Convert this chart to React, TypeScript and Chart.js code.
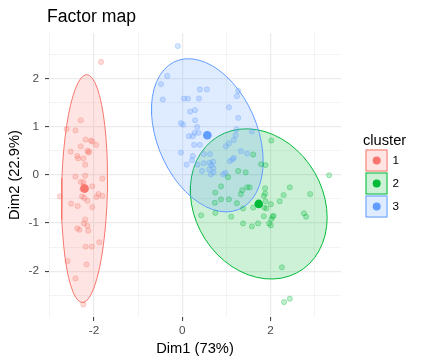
import React, { useEffect, useRef } from "react";
import { Chart, registerables } from "chart.js";

Chart.register(...registerables);

// ---------- data ----------
const clusterLabels = ["1", "2", "3"];
const clusterColors = ["#F8766D", "#00BA38", "#619CFF"];

const cluster1X = [-1.84, -2.30, -2.62, -2.42, -2.19, -2.07, -2.04, -1.95, -2.30, -2.53, -2.15, -2.11, -2.13, -2.38, -2.36, -2.24, -2.20, -2.42, -2.20, -1.81, -2.30, -2.24, -2.04, -2.77, -2.27, -2.22, -2.15, -1.90, -1.94, -1.81, -2.52, -2.37, -2.04, -2.20, -2.23, -2.15, -2.38, -2.33, -2.13, -2.19, -2.05, -1.88, -2.60, -2.17, -2.42, -2.24, -2.21, -2.26, -2.19, -2.24];
const cluster1Y = [2.34, 1.13, 0.95, 0.92, 0.73, 0.71, 0.69, 0.62, 0.59, 0.48, 0.50, 0.48, 0.46, 0.39, 0.34, 0.34, 0.21, -0.04, -0.02, -0.08, -0.15, -0.15, -0.24, -0.45, -0.45, -0.48, -0.54, -0.40, -0.46, -0.44, -0.60, -0.65, -0.67, -0.93, -1.01, -1.06, -1.11, -1.14, -1.16, -1.49, -1.49, -1.40, -1.79, -1.86, -2.15, -2.69, -0.26, -0.30, -0.31, -0.24];

const cluster2X = [2.02, 1.61, 1.79, 1.89, 1.27, 1.44, 1.04, 0.88, 0.75, 0.88, 1.06, 1.24, 0.74, 1.36, 1.33, 1.47, 1.53, 1.61, 1.88, 1.88, 1.85, 1.89, 2.01, 1.86, 1.91, 2.21, 2.30, 2.44, 2.90, 3.33, 0.43, 0.75, 1.11, 1.38, 1.58, 1.72, 1.85, 2.05, 2.07, 2.02, 1.97, 2.01, 2.76, 2.81, 2.26, 2.31, 2.44, 1.38];
const cluster2Y = [0.71, 0.42, 0.22, 0.20, 0.08, 0.05, -0.05, -0.24, -0.37, -0.51, -0.51, -0.59, -0.58, -0.32, -0.40, -0.26, -0.26, -0.68, -0.28, -0.39, -0.44, -0.55, -0.61, -0.68, -0.70, -0.55, -0.42, -0.26, -0.40, -0.01, -0.84, -0.79, -0.87, -1.01, -1.07, -1.01, -0.86, -0.87, -0.85, -0.92, -1.01, -1.05, -0.80, -0.87, -1.92, -2.64, -2.57, -0.70];

const cluster3X = [-0.10, -0.34, -0.48, -0.44, 0.04, 0.13, 0.38, 0.40, 0.56, 1.27, 1.24, 1.06, 0.18, 0.29, 1.27, 0.29, -0.03, 0.02, 0.34, 0.15, 0.24, 0.28, 0.37, 1.23, 1.21, 1.58, 1.06, 1.17, 0.99, -0.03, 0.27, 0.40, 0.24, 0.22, 0.10, 0.49, 0.63, 1.33, 1.47, 0.35, 0.49, 0.62, 0.70, 0.66, 0.71, 0.45, 0.61, 0.65, 0.71, 0.93, 0.98, 1.08, 1.14, 1.17];
const cluster3Y = [2.67, 2.05, 1.88, 1.56, 1.58, 1.58, 1.58, 1.77, 1.77, 1.74, 1.63, 1.40, 1.31, 1.34, 1.18, 1.13, 1.07, 1.04, 0.99, 0.80, 0.80, 0.87, 0.87, 0.94, 0.82, 0.90, 0.65, 0.72, 0.59, 0.46, 0.62, 0.62, 0.39, 0.30, 0.21, 0.43, 0.43, 0.49, 0.44, 0.21, 0.24, 0.25, 0.27, 0.20, 0.14, 0.08, 0.11, 0.01, 0.05, 0.01, 0.04, 0.28, 0.32, 0.35];

const xTickValues = [-2, 0, 2];
const xGridValues = [-3, -2, -1, 0, 1, 2, 3];
const yTickValues = [-2, -1, 0, 1, 2];
const yGridValues = [-2.5, -2, -1.5, -1, -0.5, 0, 0.5, 1, 1.5, 2, 2.5];
const xLimits = [-3.02, 3.6];
const yLimits = [-2.95, 2.94];

const chartTitle = "Factor map";
const xTitle = "Dim1 (73%)";
const yTitle = "Dim2 (22.9%)";
const legendTitle = "cluster";
const ellipseLevel = 0.95;

// ---------- helpers ----------
const FONT = '"Liberation Sans", Arial, Helvetica, sans-serif';

function rgba(hex: string, a: number) {
  const n = parseInt(hex.slice(1), 16);
  return `rgba(${(n >> 16) & 255},${(n >> 8) & 255},${n & 255},${a})`;
}

function mean(v: number[]) {
  return v.reduce((s, x) => s + x, 0) / v.length;
}

// ggplot2 stat_ellipse(type = "norm")
function normEllipse(xs: number[], ys: number[], level: number, segments = 51) {
  const n = xs.length;
  const mx = mean(xs);
  const my = mean(ys);
  let sxx = 0, syy = 0, sxy = 0;
  for (let i = 0; i < n; i++) {
    const dx = xs[i] - mx;
    const dy = ys[i] - my;
    sxx += dx * dx;
    syy += dy * dy;
    sxy += dx * dy;
  }
  sxx /= n - 1;
  syy /= n - 1;
  sxy /= n - 1;
  const a = Math.sqrt(sxx);
  const b = sxy / a;
  const c = Math.sqrt(Math.max(syy - b * b, 0));
  const dfd = n - 1;
  const f = (dfd / 2) * (Math.pow(1 - level, -2 / dfd) - 1); // qf(level, 2, dfd)
  const r = Math.sqrt(2 * f);
  const pts: { x: number; y: number }[] = [];
  for (let k = 0; k <= segments; k++) {
    const t = (2 * Math.PI * k) / segments;
    const u = Math.cos(t);
    const v = Math.sin(t);
    pts.push({ x: mx + r * u * a, y: my + r * (u * b + v * c) });
  }
  return pts;
}

const clusterXs = [cluster1X, cluster2X, cluster3X];
const clusterYs = [cluster1Y, cluster2Y, cluster3Y];

export default function App() {
  const canvasRef = useRef<HTMLCanvasElement | null>(null);

  useEffect(() => {
    document.body.style.margin = "0";
    const canvas = canvasRef.current;
    if (!canvas) return;

    const datasets: any[] = [];
    clusterLabels.forEach((lab, i) => {
      datasets.push({
        type: "line",
        label: "ellipse " + lab,
        data: normEllipse(clusterXs[i], clusterYs[i], ellipseLevel),
        borderColor: clusterColors[i],
        borderWidth: 1,
        backgroundColor: rgba(clusterColors[i], 0.2),
        fill: "shape",
        pointRadius: 0,
        tension: 0,
        order: 10 - i,
      });
    });
    clusterLabels.forEach((lab, i) => {
      datasets.push({
        type: "scatter",
        label: "points " + lab,
        data: clusterXs[i].map((x, j) => ({ x, y: clusterYs[i][j] })),
        backgroundColor: rgba(clusterColors[i], 0.25),
        borderColor: rgba(clusterColors[i], 0.3),
        borderWidth: 1,
        pointRadius: 2.6,
        pointHoverRadius: 2.6,
        order: 5,
      });
    });
    clusterLabels.forEach((lab, i) => {
      datasets.push({
        type: "scatter",
        label: "center " + lab,
        data: [{ x: mean(clusterXs[i]), y: mean(clusterYs[i]) }],
        backgroundColor: clusterColors[i],
        borderColor: clusterColors[i],
        borderWidth: 0,
        pointRadius: 4.3,
        order: 1,
      });
    });

    const decor = {
      id: "decor",
      afterDraw(chart: any) {
        const ctx = chart.ctx;
        const area = chart.chartArea;
        ctx.save();
        ctx.fillStyle = "#000000";
        ctx.textAlign = "left";
        ctx.textBaseline = "alphabetic";
        ctx.font = `17.6px ${FONT}`;
        ctx.fillText(chartTitle, area.left - 2, 21.7);

        const midY = (area.top + area.bottom) / 2;
        const lx = area.right + 24.5;
        const keysTop = midY - 25.5;
        ctx.font = `14.7px ${FONT}`;
        ctx.fillText(legendTitle, lx - 2.5, keysTop - 5);
        clusterLabels.forEach((lab, i) => {
          const top = keysTop + i * 23;
          ctx.fillStyle = "#ffffff";
          ctx.fillRect(lx, top, 22, 22);
          ctx.fillStyle = rgba(clusterColors[i], 0.2);
          ctx.fillRect(lx, top, 22, 22);
          ctx.strokeStyle = clusterColors[i];
          ctx.lineWidth = 1;
          ctx.strokeRect(lx + 0.5, top + 0.5, 21, 21);
          ctx.beginPath();
          ctx.arc(lx + 11.2, top + 11, 4, 0, Math.PI * 2);
          ctx.fillStyle = clusterColors[i];
          ctx.fill();
          ctx.fillStyle = "#000000";
          ctx.font = `11.7px ${FONT}`;
          ctx.textBaseline = "middle";
          ctx.fillText(lab, lx + 27, top + 11.5);
          ctx.textBaseline = "alphabetic";
        });
        ctx.restore();
      },
    };

    const gridColor = "#EBEBEB";

    const chart = new Chart(canvas, {
      type: "scatter",
      data: { datasets },
      options: {
        animation: false,
        responsive: false,
        maintainAspectRatio: false,
        events: [],
        layout: { padding: { left: 0, right: 83, top: 33, bottom: 0 } },
        plugins: {
          legend: { display: false },
          title: { display: false },
          tooltip: { enabled: false },
        },
        scales: {
          x: {
            type: "linear",
            min: xLimits[0],
            max: xLimits[1],
            afterBuildTicks: (s: any) => {
              s.ticks = xGridValues.map((v) => ({ value: v }));
            },
            afterFit: (s: any) => {
              s.height = 47;
            },
            ticks: {
              autoSkip: false,
              maxRotation: 0,
              padding: 3,
              color: "#4D4D4D",
              font: { family: FONT, size: 11.7 },
              callback: (v: any) => (xTickValues.includes(Number(v)) ? String(v) : ""),
            },
            grid: {
              color: gridColor,
              lineWidth: (c: any) => (xTickValues.includes(c.tick?.value) ? 1.2 : 0.6),
              drawTicks: true,
              tickLength: 4,
              tickWidth: 1,
              tickColor: (c: any) => (xTickValues.includes(c.tick?.value) ? "#333333" : "rgba(0,0,0,0)"),
            },
            border: { display: false },
            title: {
              display: true,
              text: xTitle,
              color: "#000000",
              font: { family: FONT, size: 14.7 },
              padding: { top: 6, bottom: 6 },
            },
          },
          y: {
            type: "linear",
            min: yLimits[0],
            max: yLimits[1],
            afterBuildTicks: (s: any) => {
              s.ticks = yGridValues.map((v) => ({ value: v }));
            },
            afterFit: (s: any) => {
              s.width = 49;
            },
            ticks: {
              autoSkip: false,
              padding: 6,
              color: "#4D4D4D",
              font: { family: FONT, size: 11.7 },
              callback: (v: any) => (yTickValues.includes(Number(v)) ? String(v) : ""),
            },
            grid: {
              color: gridColor,
              lineWidth: (c: any) => (yTickValues.includes(c.tick?.value) ? 1.2 : 0.6),
              drawTicks: true,
              tickLength: 4,
              tickWidth: 1,
              tickColor: (c: any) => (yTickValues.includes(c.tick?.value) ? "#333333" : "rgba(0,0,0,0)"),
            },
            border: { display: false },
            title: {
              display: true,
              text: yTitle,
              color: "#000000",
              font: { family: FONT, size: 14.7 },
              padding: { top: 6, bottom: 6 },
            },
          },
        },
      },
      plugins: [decor],
    } as any);

    return () => chart.destroy();
  }, []);

  return (
    <div style={{ width: 424, height: 364, background: "#ffffff" }}>
      <canvas ref={canvasRef} width={424} height={364} style={{ display: "block", width: 424, height: 364 }} />
    </div>
  );
}
